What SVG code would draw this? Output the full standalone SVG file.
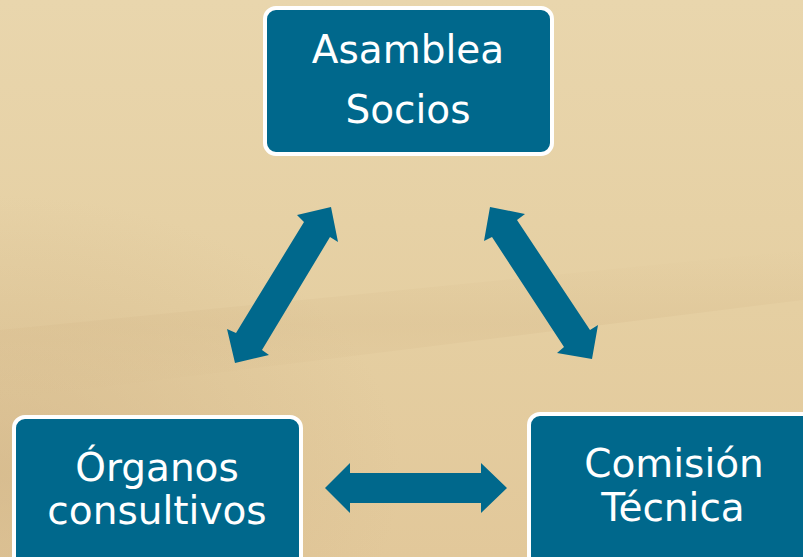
<svg xmlns="http://www.w3.org/2000/svg" width="803" height="557" viewBox="0 0 803 557">
  <defs>
    <linearGradient id="bg" x1="0" y1="0" x2="0" y2="1">
      <stop offset="0" stop-color="#e9d6ad"/>
      <stop offset="0.55" stop-color="#e5cfa2"/>
      <stop offset="1" stop-color="#e2c89a"/>
    </linearGradient>
    <radialGradient id="shade" cx="0" cy="0.85" r="0.5">
      <stop offset="0" stop-color="#cfb285" stop-opacity="0.55"/>
      <stop offset="1" stop-color="#cfb285" stop-opacity="0"/>
    </radialGradient>
    <linearGradient id="band" x1="0" y1="0" x2="0" y2="1">
      <stop offset="0" stop-color="#d8bd8f" stop-opacity="0"/>
      <stop offset="0.5" stop-color="#d8bd8f" stop-opacity="0.35"/>
      <stop offset="1" stop-color="#d8bd8f" stop-opacity="0"/>
    </linearGradient>
  </defs>
  <style>
    .box { fill: #00688c; stroke: #ffffff; stroke-width: 4; }
    .lbl { fill: #ffffff; font-family: "DejaVu Sans", "Open Sans", sans-serif; font-size: 39px; text-anchor: middle; }
    .arrow { fill: #00688c; }
  </style>
  <rect width="803" height="557" fill="url(#bg)"/>
  <rect width="803" height="557" fill="url(#shade)"/>
  <path d="M0 330 L803 250 L803 300 L0 400 Z" fill="url(#band)"/>

  <g id="connectors">
    <polygon class="arrow" points="331,207 338,242 330,237 262,350 269,355 235,363 227,329 236,333 304,222 297,215"/>
    <polygon class="arrow" points="490,207 525,214 517,220 590,330 598,325 592,359 557,353 564,347 492,237 484,241"/>
    <polygon class="arrow" points="325,488 350,463 350,473 481,473 481,463 507,488 481,513 481,503 350,503 350,513"/>
  </g>

  <g id="asamblea">
    <rect class="box" x="265" y="8" width="287" height="146" rx="11"/>
    <text class="lbl" x="408" y="63">Asamblea</text>
    <text class="lbl" x="408" y="123">Socios</text>
  </g>
  <g id="organos">
    <rect class="box" x="14" y="417" width="287" height="160" rx="11"/>
    <text class="lbl" x="157" y="481">Órganos</text>
    <text class="lbl" x="157" y="524">consultivos</text>
  </g>
  <g id="comision">
    <rect class="box" x="529" y="414" width="300" height="160" rx="11"/>
    <text class="lbl" x="674" y="477">Comisión</text>
    <text class="lbl" x="673" y="521">Técnica</text>
  </g>
</svg>
